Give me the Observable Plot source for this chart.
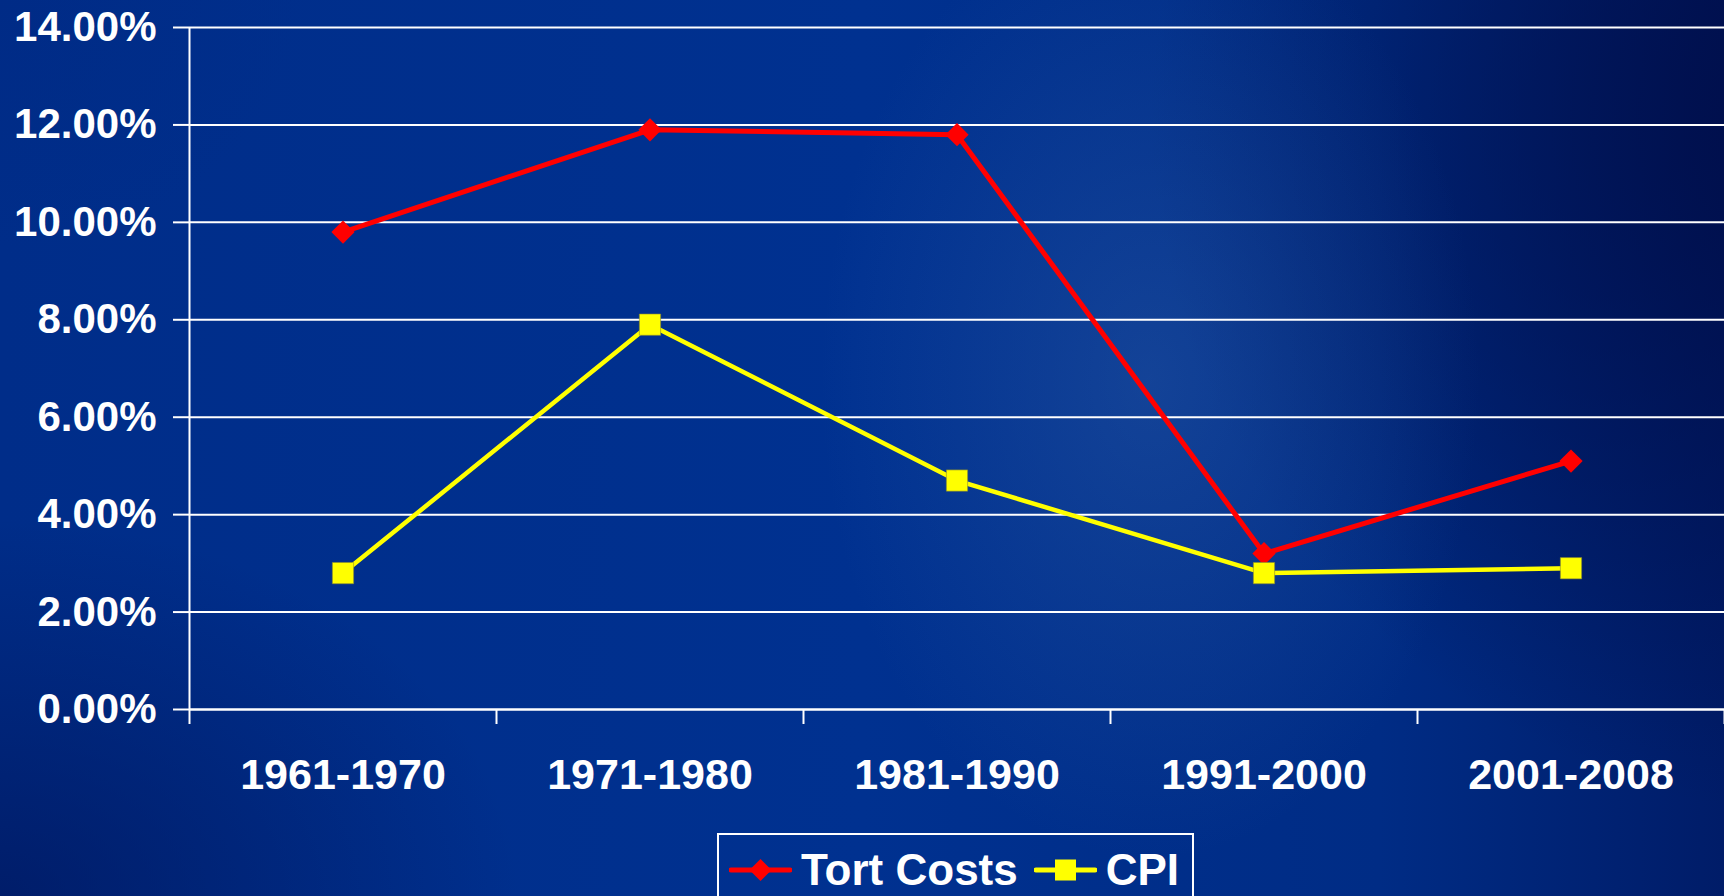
<!DOCTYPE html>
<html>
<head>
<meta charset="utf-8">
<script src="https://cdn.jsdelivr.net/npm/d3@7"></script>
<script src="https://cdn.jsdelivr.net/npm/@observablehq/plot@0.6"></script>
<style>
  html, body { margin: 0; padding: 0; width: 1724px; height: 896px; overflow: hidden; }
  body {
    position: relative;
    font-family: "Liberation Sans", Arial, Helvetica, sans-serif;
    background:
      radial-gradient(ellipse 330px 480px at 1150px 380px, rgba(60,110,180,0.32), rgba(60,110,180,0) 100%),
      radial-gradient(ellipse 700px 700px at 1850px 120px, rgba(0,12,70,0.95), rgba(0,12,70,0) 100%),
      radial-gradient(ellipse 520px 380px at 0px 900px, rgba(0,18,85,0.6), rgba(0,18,85,0) 100%),
      radial-gradient(ellipse 300px 250px at 0px 0px, rgba(0,40,130,0.4), rgba(0,40,130,0) 100%),
      linear-gradient(to right, #002d89 0%, #003190 50%, #002c85 80%, #001c68 100%);
  }
  #chart { position: absolute; left: 0; top: 0; }
  #legend {
    position: absolute; left: 717px; top: 833px;
    width: 477px; height: 70px;
    border: 2px solid #ffffff; box-sizing: border-box;
    display: flex; align-items: flex-start; padding-top: 13px; padding-left: 10px;
    color: #fff; font-weight: bold; font-size: 44px; line-height: 1;
  }
  #legend .item { display: flex; align-items: center; }
  #legend svg { display: block; }
</style>
</head>
<body>
<div id="chart"></div>
<div id="legend"></div>
<script>
const categories = ["1961-1970", "1971-1980", "1981-1990", "1991-2000", "2001-2008"];
const tortCosts = [9.8, 11.9, 11.8, 3.2, 5.1];
const cpi = [2.8, 7.9, 4.7, 2.8, 2.9];
const yTicks = [0, 2, 4, 6, 8, 10, 12, 14];
const seriesNames = ["Tort Costs", "CPI"];
const seriesColors = ["#ff0000", "#ffff00"];

const tortData = categories.map((c, i) => ({pos: i + 0.5, cat: c, value: tortCosts[i]}));
const cpiData = categories.map((c, i) => ({pos: i + 0.5, cat: c, value: cpi[i]}));
const boundaries = d3.range(categories.length + 1);
const centers = categories.map((c, i) => i + 0.5);

const plot = Plot.plot({
  width: 1724,
  height: 822,
  marginLeft: 189,
  marginRight: 0,
  marginTop: 27,
  marginBottom: 113,
  style: {
    background: "transparent",
    color: "#ffffff",
    fontFamily: "'Liberation Sans', Arial, sans-serif",
    fontSize: "42px",
    fontWeight: "bold",
    overflow: "visible"
  },
  x: {type: "linear", domain: [0, categories.length]},
  y: {domain: [0, 14]},
  marks: [
    Plot.gridY(yTicks, {stroke: "#ffffff", strokeOpacity: 1, strokeWidth: 2}),
    Plot.axisY(yTicks, {
      tickSize: 16, tickPadding: 17, strokeWidth: 2, fontSize: 42,
      tickFormat: d => d.toFixed(2) + "%", label: null
    }),
    Plot.axisX(boundaries, {tickSize: 15, strokeWidth: 2, tickFormat: () => "", label: null}),
    Plot.axisX(centers, {
      tickSize: 0, tickPadding: 49, fontSize: 43,
      tickFormat: d => categories[Math.floor(d)], label: null
    }),
    Plot.ruleX([0], {y1: 0, y2: 14, stroke: "#ffffff", strokeWidth: 2}),
    Plot.ruleY([0], {stroke: "#ffffff", strokeWidth: 2}),
    Plot.line(tortData, {x: "pos", y: "value", stroke: seriesColors[0], strokeWidth: 5}),
    Plot.dot(tortData, {x: "pos", y: "value", symbol: "diamond2", r: 10.5, fill: seriesColors[0], stroke: "none"}),
    Plot.line(cpiData, {x: "pos", y: "value", stroke: seriesColors[1], strokeWidth: 4.5}),
    Plot.dot(cpiData, {x: "pos", y: "value", symbol: "square", r: 12, fill: seriesColors[1], stroke: "#8a8a30", strokeWidth: 0.6})
  ]
});
document.getElementById("chart").appendChild(plot);

// Legend
const legend = document.getElementById("legend");
const symbols = ["diamond", "square"];
const gaps = [16, 0];
seriesNames.forEach((name, k) => {
  const item = document.createElement("div");
  item.className = "item";
  item.style.marginRight = gaps[k] + "px";
  const w = 63, h = 24;
  const ns = "http://www.w3.org/2000/svg";
  const svg = document.createElementNS(ns, "svg");
  svg.setAttribute("width", w); svg.setAttribute("height", h);
  svg.style.marginRight = "9px";
  const ln = document.createElementNS(ns, "line");
  ln.setAttribute("x1", 2); ln.setAttribute("x2", w - 2);
  ln.setAttribute("y1", h / 2); ln.setAttribute("y2", h / 2);
  ln.setAttribute("stroke", seriesColors[k]); ln.setAttribute("stroke-width", 5);
  ln.setAttribute("stroke-linecap", "round");
  svg.appendChild(ln);
  if (symbols[k] === "diamond") {
    const p = document.createElementNS(ns, "path");
    const cx = w / 2, cy = h / 2, s = 11;
    p.setAttribute("d", `M${cx},${cy - s}L${cx + s},${cy}L${cx},${cy + s}L${cx - s},${cy}Z`);
    p.setAttribute("fill", seriesColors[k]);
    svg.appendChild(p);
  } else {
    const r = document.createElementNS(ns, "rect");
    r.setAttribute("x", w / 2 - 10.5); r.setAttribute("y", h / 2 - 10.5);
    r.setAttribute("width", 21); r.setAttribute("height", 21);
    r.setAttribute("fill", seriesColors[k]);
    svg.appendChild(r);
  }
  item.appendChild(svg);
  const span = document.createElement("span");
  span.textContent = name;
  item.appendChild(span);
  legend.appendChild(item);
});
</script>
</body>
</html>
